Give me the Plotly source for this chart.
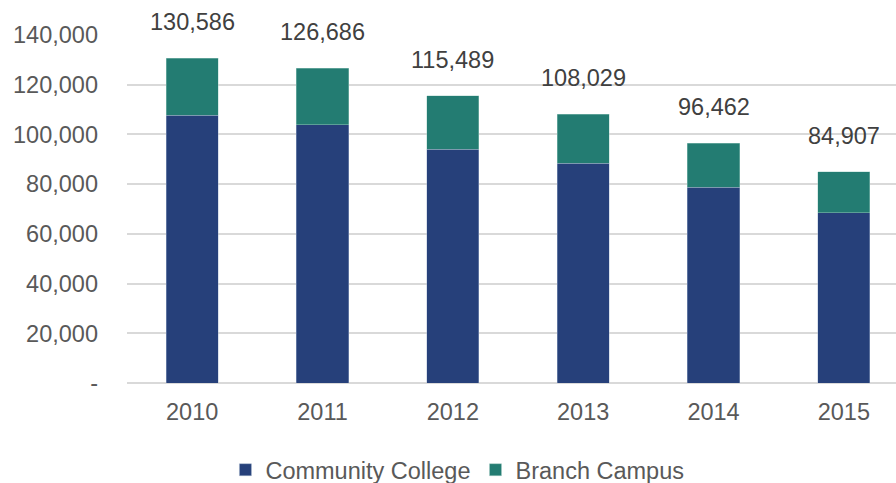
import plotly.graph_objects as go

years = ["2010", "2011", "2012", "2013", "2014", "2015"]
community_college = [107800, 103800, 94000, 88500, 78800, 68400]
branch_campus = [22786, 22886, 21489, 19529, 17662, 16507]
totals = [c + b for c, b in zip(community_college, branch_campus)]
y_tickvals = [0, 20000, 40000, 60000, 80000, 100000, 120000, 140000]
y_ticktext = ["-", "20,000", "40,000", "60,000", "80,000", "100,000", "120,000", "140,000"]

FONT = "Liberation Sans, Arial, sans-serif"
fig = go.Figure()
fig.add_trace(go.Bar(
    x=years, y=community_college, name="Community College",
    marker=dict(color="#26407A", line=dict(color="rgba(170,185,210,0.7)", width=0.6)),
    width=0.4,
))
fig.add_trace(go.Bar(
    x=years, y=branch_campus, name="Branch Campus",
    marker=dict(color="#237C72", line=dict(color="rgba(170,210,200,0.7)", width=0.6)),
    width=0.4,
))
for i, t in enumerate(totals):
    fig.add_annotation(x=i, y=t, xref="x", yref="y", text=f"{t:,}", showarrow=False,
                       yshift=36, yanchor="middle",
                       font=dict(family=FONT, size=23.5, color="#404040"))

fig.update_layout(
    barmode="stack",
    width=896, height=483,
    margin=dict(l=127, r=0, t=35, b=100, autoexpand=False),
    plot_bgcolor="white", paper_bgcolor="white",
    font=dict(family=FONT, size=23.5, color="#595959"),
    xaxis=dict(type="category", range=[-0.5, 5.4], showgrid=False, ticks="",
               showline=False, ticklabelstandoff=12, automargin=False),
    yaxis=dict(range=[0, 140000], tickvals=y_tickvals, ticktext=y_ticktext,
               showgrid=True, gridcolor="#d9d9d9", gridwidth=1.5, zeroline=True,
               zerolinecolor="#d9d9d9", zerolinewidth=1.5, ticks="",
               ticklabelstandoff=28, showline=False, automargin=False),
    legend=dict(orientation="h", x=0.128, xanchor="left", y=0.027, yref="container",
                yanchor="middle",
                font=dict(family=FONT, size=23.5, color="#595959"), traceorder="normal",
                itemwidth=30),
    showlegend=True,
)
fig.write_html("out.html")
